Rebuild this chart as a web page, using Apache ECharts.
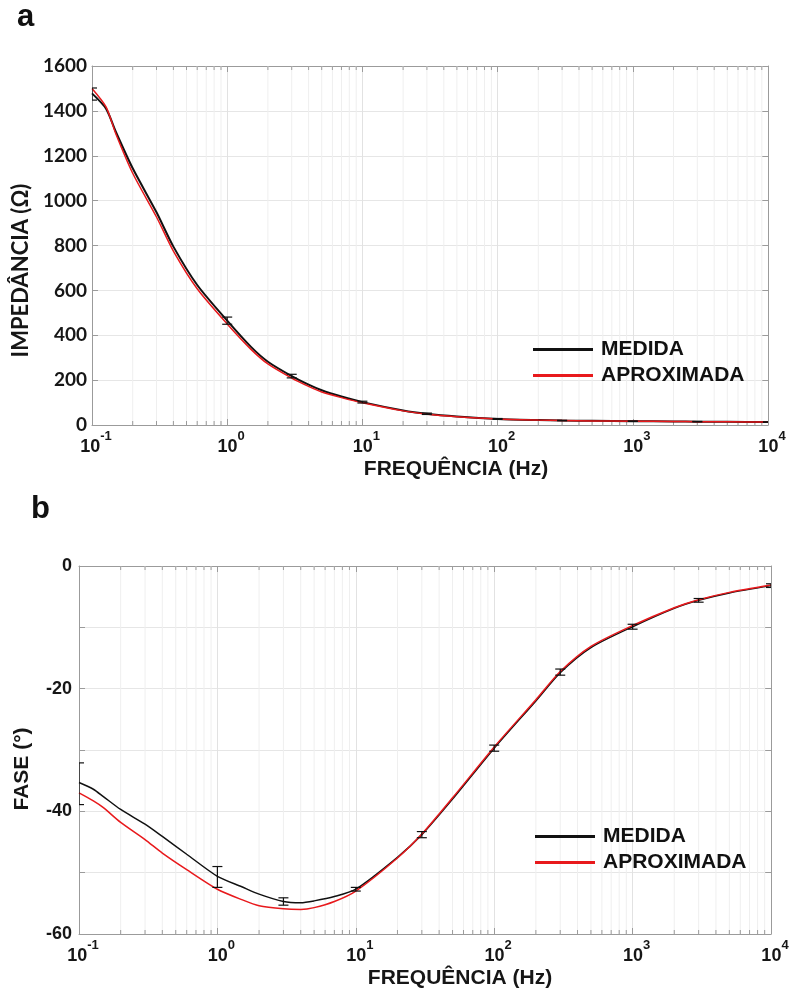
<!DOCTYPE html>
<html>
<head>
<meta charset="utf-8">
<script src="https://cdn.jsdelivr.net/npm/echarts@6/dist/echarts.min.js"></script>
<style>
  html, body { margin: 0; padding: 0; background: #fff; }
  #chart { width: 802px; height: 990px; }
</style>
</head>
<body>
<div id="chart"></div>
<script>
// frequências (Hz) comuns às duas curvas
var freq = [0.1, 0.127, 0.15, 0.2, 0.3, 0.4, 0.6, 1, 1.5, 2, 3, 4, 5, 7, 10, 20, 30, 50, 100, 200, 300, 500, 1000, 2000, 3000, 5000, 10000];

// painel a - impedância (ohm)
var impMedida = [1478, 1410, 1307, 1144, 948, 795, 624, 465, 348, 282, 218, 180, 155, 127, 102, 65, 50, 38, 27, 22, 20, 19, 17, 16, 15, 14, 13];
var impAprox  = [1500, 1418, 1298, 1122, 927, 775, 607, 450, 337, 272, 209, 172, 147, 122, 99, 63, 48, 37, 27, 22, 20, 18, 17, 16, 15, 14, 13];

// pontos com barra de erro
var errFreq   = [0.1, 1, 3, 10, 30, 100, 300, 1000, 3000, 10000];
var impErrVal = [1475, 465, 218, 102, 50, 27, 20, 17, 15, 13];
var impErr    = [27, 16, 8, 4, 3, 2, 1, 1, 1, 1];

// painel b - fase (graus)
var faseMedida = [-35.3, -36.4, -37.6, -39.7, -42.1, -44.1, -47.0, -50.6, -52.3, -53.5, -54.7, -54.9, -54.6, -53.9, -52.7, -47.5, -43.8, -38.0, -29.7, -22.0, -17.4, -13.3, -9.9, -6.9, -5.6, -4.4, -3.2];
var faseAprox  = [-37.0, -38.3, -39.4, -41.8, -44.6, -46.8, -49.5, -52.7, -54.4, -55.4, -55.9, -56.0, -55.7, -54.7, -53.0, -47.6, -43.7, -37.8, -29.5, -21.8, -17.2, -13.1, -9.7, -6.8, -5.5, -4.3, -3.1];
var faseErrVal = [-35.5, -50.7, -54.7, -52.7, -43.8, -29.7, -17.3, -9.9, -5.6, -3.2];
var faseErr    = [3.4, 1.7, 0.6, 0.3, 0.5, 0.5, 0.5, 0.4, 0.3, 0.3];

var nomes = ['MEDIDA', 'APROXIMADA'];

// linhas de grade menores (2..9 x 10^k)
var minorFreq = [];
for (var k = -1; k <= 3; k++) {
  for (var d = 2; d <= 9; d++) minorFreq.push(d * Math.pow(10, k));
}

var ARIAL = '"Liberation Sans", Arial, sans-serif';
var CALIB = 'Lato, "Liberation Sans", sans-serif';
var FRAME = '#9b9b9b';

function pares(xs, ys) {
  return xs.map(function (x, i) { return [x, ys[i]]; });
}
function triplas(xs, ys, es) {
  return xs.map(function (x, i) { return [x, ys[i], es[i]]; });
}

function expLabel(v) {
  var e = Math.round(Math.log(v) / Math.LN10);
  return '{b|10}{s|' + e + '}';
}
var richExp = {
  b: { fontFamily: ARIAL, fontWeight: 'bold', fontSize: 18, color: '#161616', lineHeight: 26, verticalAlign: 'bottom', padding: [0, 0, 0, 8] },
  s: { fontFamily: ARIAL, fontWeight: 'bold', fontSize: 13, color: '#161616', lineHeight: 13, verticalAlign: 'top' }
};

function minorGrid(yMin, yMax) {
  return function (params, api) {
    var x = api.value(0);
    var p0 = api.coord([x, yMin]);
    var p1 = api.coord([x, yMax]);
    return {
      type: 'group',
      children: [
        { type: 'line', shape: { x1: p0[0], y1: p0[1], x2: p1[0], y2: p1[1] }, style: { stroke: '#efefef', lineWidth: 1 } },
        { type: 'line', shape: { x1: p0[0], y1: p0[1], x2: p0[0], y2: p0[1] - 4 }, style: { stroke: FRAME, lineWidth: 1 } },
        { type: 'line', shape: { x1: p1[0], y1: p1[1], x2: p1[0], y2: p1[1] + 4 }, style: { stroke: FRAME, lineWidth: 1 } }
      ]
    };
  };
}

function errBar(params, api) {
  var x = api.value(0), v = api.value(1), e = api.value(2);
  var hi = api.coord([x, v + e]);
  var lo = api.coord([x, v - e]);
  var w = 5;
  var st = { stroke: '#111', lineWidth: 1.2 };
  return {
    type: 'group',
    children: [
      { type: 'line', shape: { x1: hi[0], y1: hi[1], x2: lo[0], y2: lo[1] }, style: st },
      { type: 'line', shape: { x1: hi[0] - w, y1: hi[1], x2: hi[0] + w, y2: hi[1] }, style: st },
      { type: 'line', shape: { x1: lo[0] - w, y1: lo[1], x2: lo[0] + w, y2: lo[1] }, style: st }
    ]
  };
}

function eixoX(grid, pos) {
  var base = {
    type: 'log', logBase: 10, gridIndex: grid, position: pos,
    min: 0.1, max: 10000,
    axisLine: { show: true, onZero: false, lineStyle: { color: FRAME, width: 1 } },
    axisTick: { show: true, inside: true, length: 6, lineStyle: { color: FRAME } },
    splitLine: { show: false },
    axisLabel: { show: false }
  };
  if (pos === 'bottom') {
    base.splitLine = { show: true, lineStyle: { color: '#e2e2e2', width: 1 } };
    base.axisLabel = { show: true, formatter: expLabel, rich: richExp, margin: 5, showMinLabel: true, showMaxLabel: true };
    base.name = 'FREQUÊNCIA (Hz)';
    base.nameLocation = 'middle';
    base.nameTextStyle = { fontFamily: ARIAL, fontWeight: 'bold', fontSize: 21, color: '#161616',
      padding: grid === 0 ? [0, 0, 0, 52] : [0, 0, 0, 70] };
    base.nameGap = 34;
  }
  return base;
}

function eixoY(grid, pos, min, max, step) {
  var base = {
    type: 'value', gridIndex: grid, position: pos,
    min: min, max: max, interval: step,
    axisLine: { show: true, lineStyle: { color: FRAME, width: 1 } },
    axisTick: { show: true, inside: true, length: 6, lineStyle: { color: FRAME } },
    splitLine: { show: false },
    axisLabel: { show: false }
  };
  if (pos === 'left') {
    base.splitLine = { show: true, lineStyle: { color: '#e6e6e6', width: 1 } };
  }
  return base;
}

var yA = eixoY(0, 'left', 0, 1600, 200);
yA.axisLabel = { show: true, fontFamily: CALIB, fontWeight: 'bold', fontSize: 19, color: '#161616', margin: 5,
  formatter: function (v) { return String(v); } };
yA.name = 'IMPEDÂNCIA (Ω)';
yA.nameLocation = 'middle';
yA.nameGap = 57;
yA.nameTextStyle = { fontFamily: CALIB, fontWeight: 'bold', fontSize: 22, color: '#161616', padding: [0, 50, 0, 0] };

var yB = eixoY(1, 'left', -60, 0, 10);
yB.axisLabel = { show: true, fontFamily: ARIAL, fontWeight: 'bold', fontSize: 18, color: '#161616', margin: 7,
  formatter: function (v) { return v % 20 === 0 ? String(v) : ''; } };
yB.name = 'FASE (°)';
yB.nameLocation = 'middle';
yB.nameGap = 46;
yB.nameTextStyle = { fontFamily: ARIAL, fontWeight: 'bold', fontSize: 21, color: '#161616', padding: [0, 38, 0, 0] };

function legenda(left, top) {
  return {
    left: left, top: top, orient: 'vertical',
    icon: 'rect', itemWidth: 60, itemHeight: 3, itemGap: 5,
    data: nomes,
    selectedMode: false,
    textStyle: { fontFamily: ARIAL, fontWeight: 'bold', fontSize: 21, color: '#111', padding: [0, 0, 0, 3] }
  };
}

function seriesPainel(xi, yi, medida, aprox, errV, errE, yMin, yMax, wBlack) {
  return [
    {
      type: 'custom', xAxisIndex: xi, yAxisIndex: yi, z: 1, silent: true,
      renderItem: minorGrid(yMin, yMax),
      data: minorFreq.map(function (f) { return [f, yMin]; }),
      encode: { x: 0, y: 1 }
    },
    {
      name: 'MEDIDA', type: 'line', xAxisIndex: xi, yAxisIndex: yi,
      data: pares(freq, medida), showSymbol: false, smooth: 0.25,
      lineStyle: { color: '#111', width: wBlack }, itemStyle: { color: '#111' }
    },
    {
      name: 'APROXIMADA', type: 'line', xAxisIndex: xi, yAxisIndex: yi,
      data: pares(freq, aprox), showSymbol: false, smooth: 0.25,
      lineStyle: { color: '#e8191c', width: 1.5 }, itemStyle: { color: '#e8191c' }
    },
    {
      type: 'custom', xAxisIndex: xi, yAxisIndex: yi, z: 5, silent: true, clip: true,
      renderItem: errBar,
      data: triplas(errFreq, errV, errE),
      encode: { x: 0, y: 1 }
    }
  ];
}

var chart = echarts.init(document.getElementById('chart'), null, { renderer: 'canvas' });
chart.setOption({
  animation: false,
  backgroundColor: '#fff',
  grid: [
    { left: 92, top: 66, right: 34, bottom: 565 },
    { left: 79, top: 566, right: 31, bottom: 55 }
  ],
  xAxis: [eixoX(0, 'bottom'), eixoX(0, 'top'), eixoX(1, 'bottom'), eixoX(1, 'top')],
  yAxis: [yA, eixoY(0, 'right', 0, 1600, 200), yB, eixoY(1, 'right', -60, 0, 10)],
  legend: [legenda(528, 334), legenda(530, 821)],
  graphic: [
    { type: 'text', left: 17, top: 2, style: { text: 'a', fontFamily: ARIAL, fontWeight: 'bold', fontSize: 31, fill: '#111' } },
    { type: 'text', left: 31, top: 494, style: { text: 'b', fontFamily: ARIAL, fontWeight: 'bold', fontSize: 31, fill: '#111' } }
  ],
  series: seriesPainel(0, 0, impMedida, impAprox, impErrVal, impErr, 0, 1600, 2)
    .concat(seriesPainel(2, 2, faseMedida, faseAprox, faseErrVal, faseErr, -60, 0, 1.5))
});
</script>
</body>
</html>
